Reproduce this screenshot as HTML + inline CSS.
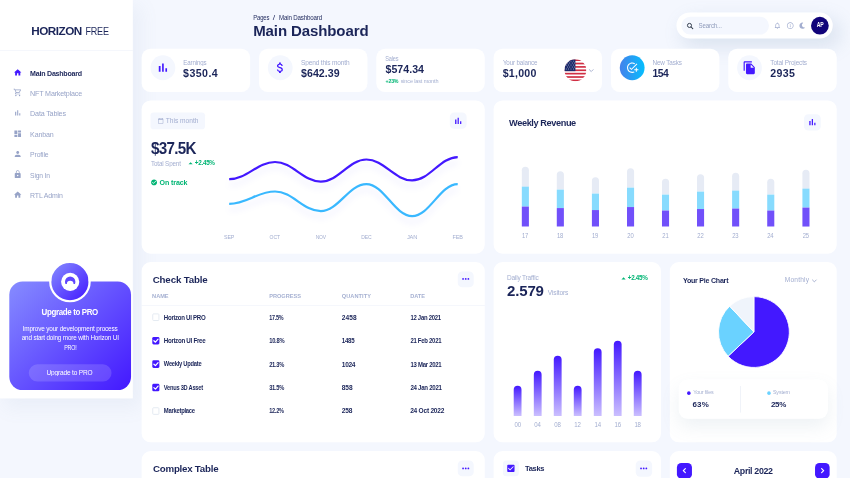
<!DOCTYPE html>
<html lang="en"><head><meta charset="utf-8"><title>Horizon UI - Main Dashboard</title>
<style>
html,body{margin:0;padding:0;background:#F4F7FE;overflow:hidden;width:850px;height:478px}
#stage{position:absolute;left:0;top:0;width:1920px;height:1080px;transform:scale(0.4427083);transform-origin:0 0;background:#F4F7FE;overflow:hidden;font-family:"Liberation Sans",Arial,sans-serif}
.t{position:absolute;white-space:pre;font-family:"Liberation Sans",Arial,sans-serif}
.a{position:absolute;box-sizing:border-box}
.card{position:absolute;background:#fff;border-radius:20px;box-sizing:border-box}
svg{position:absolute;overflow:visible}

</style></head>
<body>
<div id="stage">
<div class="a" style="left:0.00px;top:0.00px;width:299.97px;height:899.92px;background:#fff;box-shadow:14px 17px 40px 4px rgba(112,144,176,0.08);"></div>
<div class="a" style="left:0.00px;top:113.84px;width:299.97px;height:1.13px;background:#E9EDF7;"></div>
<svg style="left:29.76px;top:153.99px" width="20" height="20" viewBox="0 0 24 24" fill="#4318FF" ><path d="M10 20v-6h4v6h5v-8h3L12 3 2 12h3v8z"/></svg>
<svg style="left:29.76px;top:199.39px" width="20" height="20" viewBox="0 0 24 24" fill="#97A3C7" ><path d="M15.55 13c.75 0 1.41-.41 1.75-1.03l3.58-6.49A.996.996 0 0 0 20.01 4H5.21l-.94-2H1v2h2l3.6 7.59-1.35 2.44C4.52 15.37 5.48 17 7 17h12v-2H7l1.1-2h7.45zM6.16 6h12.15l-2.76 5H8.53L6.16 6zM7 18c-1.1 0-1.99.9-1.99 2S5.900 22 7 22s2-.9 2-2-.9-2-2-2zm10 0c-1.1 0-1.99.9-1.99 2s.89 2 1.99 2 2-.9 2-2-.9-2-2-2z"/></svg>
<svg style="left:29.76px;top:245.47px" width="20" height="20" viewBox="0 0 24 24" fill="#97A3C7" ><path d="M5 9.2h3V19H5zM10.6 5h2.8v14h-2.800zm5.6 8H19v6h-2.800z"/></svg>
<svg style="left:29.76px;top:291.55px" width="20" height="20" viewBox="0 0 24 24" fill="#97A3C7" ><path d="M3 13h8V3H3v10zm0 8h8v-6H3v6zm10 0h8V11h-8v10zm0-18v6h8V3h-8z"/></svg>
<svg style="left:29.76px;top:337.63px" width="20" height="20" viewBox="0 0 24 24" fill="#97A3C7" ><path d="M12 12c2.210 0 4-1.790 4-4s-1.790-4-4-4-4 1.790-4 4 1.790 4 4 4zm0 2c-2.670 0-8 1.340-8 4v2h16v-2c0-2.660-5.330-4-8-4z"/></svg>
<svg style="left:29.76px;top:383.71px" width="20" height="20" viewBox="0 0 24 24" fill="#97A3C7" ><path d="M18 8h-1V6c0-2.760-2.240-5-5-5S7 3.240 7 6v2H6c-1.100 0-2 .9-2 2v10c0 1.100.9 2 2 2h12c1.100 0 2-.9 2-2V10c0-1.100-.9-2-2-2zm-6 9c-1.100 0-2-.9-2-2s.9-2 2-2 2 .9 2 2-.9 2-2 2zm3.100-9H8.900V6c0-1.710 1.390-3.100 3.100-3.100 1.710 0 3.100 1.390 3.100 3.100v2z"/></svg>
<svg style="left:29.76px;top:429.79px" width="20" height="20" viewBox="0 0 24 24" fill="#97A3C7" ><path d="M10 20v-6h4v6h5v-8h3L12 3 2 12h3v8z"/></svg>
<div class="a" style="left:20.56px;top:636.08px;width:275.12px;height:244.63px;border-radius:30px;background:linear-gradient(135deg,#868CFF 0%,#4318FF 100%);"></div>
<div class="a" style="left:110.68px;top:588.88px;width:94.42px;height:94.42px;border-radius:50%;border:5.5px solid #fff;background:linear-gradient(135deg,#868CFF 0%,#4318FF 100%);"></div>
<svg style="left:137.56px;top:615.53px;" width="41.11" height="41.34" viewBox="0 0 41 41"><defs><clipPath id="lc"><rect x="0" y="0" width="41" height="25.6"/></clipPath></defs><circle cx="20.5" cy="20.5" r="20.5" fill="#fff"/><path clip-path="url(#lc)" fill-rule="evenodd" d="M8.8 20.3 a11.7 11.7 0 1 0 23.4 0 a11.7 11.7 0 1 0 -23.4 0 Z M13 25.6 a7.5 7.5 0 1 0 15 0 a7.5 7.5 0 1 0 -15 0 Z" fill="#6046FF"/></svg>
<div class="a" style="left:65.28px;top:822.66px;width:186.35px;height:38.85px;border-radius:45px;background:rgba(255,255,255,0.15);"></div>
<div class="a" style="left:1527.64px;top:28.01px;width:353.05px;height:59.41px;background:#fff;border-radius:30px;box-shadow:14px 17px 40px 4px rgba(112,144,176,0.18);"></div>
<div class="a" style="left:1538.94px;top:37.95px;width:198.10px;height:39.76px;background:#F4F7FE;border-radius:30px;"></div>
<svg style="left:1549.64px;top:49.55px" width="17" height="17" viewBox="0 0 24 24" fill="none" ><circle cx="10.5" cy="10.5" r="6.500" fill="none" stroke="#2D3748" stroke-width="3"/><path d="M15.500 15.500 L21 21" stroke="#2D3748" stroke-width="3.200" stroke-linecap="round"/></svg>
<svg style="left:1747.24px;top:48.83px" width="18" height="18" viewBox="0 0 24 24" fill="#A3AED0" ><path d="M12 22c1.100 0 2-.9 2-2h-4c0 1.100.9 2 2 2zm6-6v-5c0-3.070-1.630-5.640-4.500-6.320V4c0-.83-.67-1.500-1.500-1.500s-1.500.67-1.500 1.500v.68C7.640 5.360 6 7.920 6 11v5l-2 2v1h16v-1l-2-2zm-2 1H8v-6c0-2.480 1.510-4.500 4-4.500s4 2.020 4 4.500v6z"/></svg>
<svg style="left:1775.70px;top:48.83px" width="18" height="18" viewBox="0 0 24 24" fill="#A3AED0" ><path d="M11 7h2v2h-2zm0 4h2v6h-2zm1-9C6.480 2 2 6.480 2 12s4.480 10 10 10 10-4.480 10-10S17.520 2 12 2zm0 18c-4.410 0-8-3.590-8-8s3.590-8 8-8 8 3.590 8 8-3.590 8-8 8z"/></svg>
<svg style="left:1804.80px;top:50.83px" width="14" height="14" viewBox="0 0 512 512" fill="#A3AED0" ><path d="M283.211 512c78.962 0 151.079-35.925 198.857-94.792 7.068-8.708-.639-21.430-11.562-19.350-124.203 23.654-238.262-71.576-238.262-196.954 0-72.222 38.662-138.635 101.498-174.394 9.686-5.512 7.250-20.197-3.756-22.230A258.156 258.156 0 0 0 283.211 0c-141.309 0-256 114.511-256 256 0 141.309 114.511 256 256 256z"/></svg>
<div class="a" style="left:1832.36px;top:37.84px;width:39.98px;height:39.98px;border-radius:50%;background:#11047A;"></div>
<div class="card" style="left:320.08px;top:109.78px;width:244.86px;height:97.81px;"></div>
<div class="card" style="left:585.04px;top:109.78px;width:244.86px;height:97.81px;"></div>
<div class="card" style="left:850.22px;top:109.78px;width:244.63px;height:97.81px;"></div>
<div class="card" style="left:1114.96px;top:109.78px;width:244.86px;height:97.81px;"></div>
<div class="card" style="left:1379.69px;top:109.78px;width:245.08px;height:97.81px;"></div>
<div class="card" style="left:1645.10px;top:109.78px;width:244.86px;height:97.81px;"></div>
<div class="a" style="left:339.95px;top:124.69px;width:56.02px;height:56.02px;border-radius:50%;background:#F4F7FE;"></div>
<svg style="left:351.96px;top:136.70px" width="32" height="32" viewBox="0 0 24 24" fill="#4318FF" ><path d="M5 9.2h3V19H5zM10.6 5h2.8v14h-2.800zm5.6 8H19v6h-2.800z"/></svg>
<div class="a" style="left:604.69px;top:124.69px;width:56.02px;height:56.02px;border-radius:50%;background:#F4F7FE;"></div>
<svg style="left:616.70px;top:136.70px" width="32" height="32" viewBox="0 0 24 24" fill="#4318FF" ><path d="M11.800 10.900c-2.270-.59-3-1.200-3-2.150 0-1.090 1.010-1.850 2.700-1.850 1.780 0 2.440.85 2.500 2.100h2.210c-.07-1.720-1.120-3.300-3.210-3.810V3h-3v2.160c-1.940.42-3.500 1.680-3.500 3.610 0 2.310 1.910 3.460 4.700 4.130 2.500.6 3 1.480 3 2.410 0 .69-.49 1.790-2.700 1.790-2.060 0-2.870-.92-2.980-2.100h-2.200c.12 2.190 1.760 3.420 3.680 3.830V21h3v-2.150c1.950-.37 3.500-1.500 3.500-3.550 0-2.840-2.430-3.810-4.700-4.400z"/></svg>
<svg style="left:1275.11px;top:133.50px;" width="49.47" height="49.47" viewBox="0 0 50 50"><defs><clipPath id="fc"><circle cx="25" cy="25" r="25"/></clipPath></defs><g clip-path="url(#fc)"><rect width="50" height="50" fill="#fff"/><rect x="0" y="0.00" width="50" height="3.85" fill="#D02F44"/><rect x="0" y="7.69" width="50" height="3.85" fill="#D02F44"/><rect x="0" y="15.38" width="50" height="3.85" fill="#D02F44"/><rect x="0" y="23.08" width="50" height="3.85" fill="#D02F44"/><rect x="0" y="30.77" width="50" height="3.85" fill="#D02F44"/><rect x="0" y="38.46" width="50" height="3.85" fill="#D02F44"/><rect x="0" y="46.15" width="50" height="3.85" fill="#D02F44"/><rect x="0" y="0" width="25" height="27" fill="#1B2A6B"/><circle cx="4.0" cy="4.0" r="1" fill="#fff"/><circle cx="9.5" cy="4.0" r="1" fill="#fff"/><circle cx="15.0" cy="4.0" r="1" fill="#fff"/><circle cx="20.5" cy="4.0" r="1" fill="#fff"/><circle cx="6.7" cy="8.5" r="1" fill="#fff"/><circle cx="12.2" cy="8.5" r="1" fill="#fff"/><circle cx="17.7" cy="8.5" r="1" fill="#fff"/><circle cx="23.2" cy="8.5" r="1" fill="#fff"/><circle cx="4.0" cy="13.0" r="1" fill="#fff"/><circle cx="9.5" cy="13.0" r="1" fill="#fff"/><circle cx="15.0" cy="13.0" r="1" fill="#fff"/><circle cx="20.5" cy="13.0" r="1" fill="#fff"/><circle cx="6.7" cy="17.5" r="1" fill="#fff"/><circle cx="12.2" cy="17.5" r="1" fill="#fff"/><circle cx="17.7" cy="17.5" r="1" fill="#fff"/><circle cx="23.2" cy="17.5" r="1" fill="#fff"/><circle cx="4.0" cy="22.0" r="1" fill="#fff"/><circle cx="9.5" cy="22.0" r="1" fill="#fff"/><circle cx="15.0" cy="22.0" r="1" fill="#fff"/><circle cx="20.5" cy="22.0" r="1" fill="#fff"/></g></svg>
<svg style="left:1327.37px;top:150.75px" width="17" height="17" viewBox="0 0 24 24" fill="none" ><path d="M6 9l6 6 6-6" fill="none" stroke="#97A3C6" stroke-width="2.600" stroke-linecap="round" stroke-linejoin="round"/></svg>
<div class="a" style="left:1399.79px;top:124.69px;width:56.02px;height:56.02px;border-radius:50%;background:linear-gradient(90deg,#4481EB 0%,#04BEFE 100%);"></div>
<svg style="left:1413.80px;top:138.70px" width="28" height="28" viewBox="0 0 24 24" fill="#fff" ><path d="M22 5.180 10.590 16.600l-4.240-4.240 1.410-1.410 2.830 2.830 10-10L22 5.180zM12 20c-4.410 0-8-3.590-8-8s3.590-8 8-8c1.570 0 3.040.46 4.280 1.250l1.450-1.450A10.020 10.020 0 0 0 12 2C6.480 2 2 6.480 2 12s4.480 10 10 10c1.730 0 3.360-.44 4.780-1.220l-1.500-1.500c-1 .46-2.110.72-3.280.72zm7-5h-3v2h3v3h2v-3h3v-2h-3v-3h-2v3z"/></svg>
<div class="a" style="left:1665.20px;top:124.69px;width:56.02px;height:56.02px;border-radius:50%;background:#F4F7FE;"></div>
<svg style="left:1677.21px;top:136.70px" width="32" height="32" viewBox="0 0 24 24" fill="#4318FF" ><path d="M16 1H4c-1.100 0-2 .9-2 2v14h2V3h12V1zm-1 4 6 6v10c0 1.100-.9 2-2 2H7.990C6.890 23 6 22.100 6 21l.01-14c0-1.100.89-2 1.990-2h7zm-1 7h5.500L14 6.500V12z"/></svg>
<div class="card" style="left:320.08px;top:227.01px;width:774.78px;height:345.83px;"></div>
<div class="a" style="left:339.95px;top:253.67px;width:123.56px;height:38.40px;background:#F4F7FE;border-radius:7px;"></div>
<svg style="left:355.77px;top:265.87px" width="14" height="14" viewBox="0 0 24 24" fill="#A3AED0" ><path d="M20 3h-1V1h-2v2H7V1H5v2H4c-1.100 0-2 .9-2 2v16c0 1.100.9 2 2 2h16c1.100 0 2-.9 2-2V5c0-1.100-.9-2-2-2zm0 18H4V8h16v13z"/></svg>
<div class="a" style="left:1015.79px;top:254.34px;width:37.95px;height:37.04px;background:#F4F7FE;border-radius:10px;"></div>
<svg style="left:1023.22px;top:260.87px" width="24" height="24" viewBox="0 0 24 24" fill="#4318FF" ><path d="M5 9.2h3V19H5zM10.6 5h2.8v14h-2.800zm5.6 8H19v6h-2.800z"/></svg>
<svg style="left:420.58px;top:359.59px" width="19" height="19" viewBox="0 0 24 24" fill="#01B574" ><path d="M12 8l6 6H6z"/></svg>
<svg style="left:339.86px;top:404.46px" width="16" height="16" viewBox="0 0 24 24" fill="#01B574" ><path d="M12 2C6.480 2 2 6.480 2 12s4.480 10 10 10 10-4.480 10-10S17.520 2 12 2zm-2 15l-5-5 1.410-1.410L10 14.170l7.590-7.590L19 8l-9 9z"/></svg>
<svg style="left:0;top:0" width="1920" height="1080" viewBox="0 0 1920 1080"><defs><filter id="ds" x="-10%" y="-50%" width="120%" height="250%"><feGaussianBlur stdDeviation="7"/></filter></defs><path d="M517.7 404.8 C557.5 404.8 581.4 365.9 621.2 365.9 C661.0 365.9 684.8 410.3 724.6 410.3 C764.2 410.3 788.0 360.3 827.6 360.3 C867.3 360.3 891.2 407.6 930.9 407.6 C970.5 407.6 994.2 354.8 1033.9 354.8" fill="none" stroke="#4318FF" stroke-width="5" stroke-opacity="0.08" filter="url(#ds)" transform="translate(0,13)"/><path d="M517.7 460.3 C557.5 460.3 581.4 432.6 621.2 432.6 C661.0 432.6 684.8 477.0 724.6 477.0 C764.2 477.0 788.0 415.9 827.6 415.9 C867.3 415.9 891.2 488.1 930.9 488.1 C970.5 488.1 994.2 415.9 1033.9 415.9" fill="none" stroke="#4318FF" stroke-width="5" stroke-opacity="0.08" filter="url(#ds)" transform="translate(0,13)"/><path d="M517.7 404.8 C557.5 404.8 581.4 365.9 621.2 365.9 C661.0 365.9 684.8 410.3 724.6 410.3 C764.2 410.3 788.0 360.3 827.6 360.3 C867.3 360.3 891.2 407.6 930.9 407.6 C970.5 407.6 994.2 354.8 1033.9 354.8" fill="none" stroke="#4318FF" stroke-width="5" stroke-linecap="butt"/><path d="M517.7 460.3 C557.5 460.3 581.4 432.6 621.2 432.6 C661.0 432.6 684.8 477.0 724.6 477.0 C764.2 477.0 788.0 415.9 827.6 415.9 C867.3 415.9 891.2 488.1 930.9 488.1 C970.5 488.1 994.2 415.9 1033.9 415.9" fill="none" stroke="#39B8FF" stroke-width="5" stroke-linecap="butt"/></svg>
<div class="card" style="left:1114.96px;top:227.01px;width:775.00px;height:345.83px;"></div>
<div class="a" style="left:1815.87px;top:257.73px;width:37.95px;height:37.04px;background:#F4F7FE;border-radius:10px;"></div>
<svg style="left:1822.84px;top:264.25px" width="24" height="24" viewBox="0 0 24 24" fill="#4318FF" ><path d="M5 9.2h3V19H5zM10.6 5h2.8v14h-2.800zm5.6 8H19v6h-2.800z"/></svg>
<svg style="left:0;top:0" width="1920" height="1080" viewBox="0 0 1920 1080"><path d="M1178.7 421.6 V384.6 A8.0 8.0 0 0 1 1194.7 384.6 V421.6 Z" fill="#E6EBF5"/><rect x="1178.7" y="421.6" width="16.0" height="45.0" fill="#87DBFE"/><rect x="1178.7" y="466.6" width="16.0" height="45.0" fill="#7150FA"/><path d="M1257.7 428.3 V394.7 A8.0 8.0 0 0 1 1273.8 394.7 V428.3 Z" fill="#E6EBF5"/><rect x="1257.7" y="428.3" width="16.0" height="41.6" fill="#87DBFE"/><rect x="1257.7" y="470.0" width="16.0" height="41.6" fill="#7150FA"/><path d="M1337.0 437.3 V408.2 A8.0 8.0 0 0 1 1353.0 408.2 V437.3 Z" fill="#E6EBF5"/><rect x="1337.0" y="437.3" width="16.0" height="37.1" fill="#87DBFE"/><rect x="1337.0" y="474.5" width="16.0" height="37.1" fill="#7150FA"/><path d="M1416.3 423.8 V388.0 A8.0 8.0 0 0 1 1432.3 388.0 V423.8 Z" fill="#E6EBF5"/><rect x="1416.3" y="423.8" width="16.0" height="43.9" fill="#87DBFE"/><rect x="1416.3" y="467.7" width="16.0" height="43.9" fill="#7150FA"/><path d="M1495.3 439.6 V411.6 A8.0 8.0 0 0 1 1511.4 411.6 V439.6 Z" fill="#E6EBF5"/><rect x="1495.3" y="439.6" width="16.0" height="36.0" fill="#87DBFE"/><rect x="1495.3" y="475.6" width="16.0" height="36.0" fill="#7150FA"/><path d="M1574.4 432.8 V401.5 A8.0 8.0 0 0 1 1590.4 401.5 V432.8 Z" fill="#E6EBF5"/><rect x="1574.4" y="432.8" width="16.0" height="39.4" fill="#87DBFE"/><rect x="1574.4" y="472.2" width="16.0" height="39.4" fill="#7150FA"/><path d="M1653.7 430.6 V398.1 A8.0 8.0 0 0 1 1669.7 398.1 V430.6 Z" fill="#E6EBF5"/><rect x="1653.7" y="430.6" width="16.0" height="40.5" fill="#87DBFE"/><rect x="1653.7" y="471.1" width="16.0" height="40.5" fill="#7150FA"/><path d="M1733.0 439.6 V411.6 A8.0 8.0 0 0 1 1749.0 411.6 V439.6 Z" fill="#E6EBF5"/><rect x="1733.0" y="439.6" width="16.0" height="36.0" fill="#87DBFE"/><rect x="1733.0" y="475.6" width="16.0" height="36.0" fill="#7150FA"/><path d="M1812.5 426.1 V391.3 A8.0 8.0 0 0 1 1828.5 391.3 V426.1 Z" fill="#E6EBF5"/><rect x="1812.5" y="426.1" width="16.0" height="42.8" fill="#87DBFE"/><rect x="1812.5" y="468.9" width="16.0" height="42.8" fill="#7150FA"/></svg>
<div class="card" style="left:320.08px;top:592.26px;width:774.78px;height:407.04px;"></div>
<div class="a" style="left:1033.64px;top:612.59px;width:36.14px;height:36.14px;background:#F4F7FE;border-radius:10px;"></div>
<svg style="left:1039.71px;top:617.76px" width="24" height="24" viewBox="0 0 24 24" fill="#4318FF" ><circle cx="6" cy="12" r="2"/><circle cx="12" cy="12" r="2"/><circle cx="18" cy="12" r="2"/></svg>
<div class="a" style="left:320.08px;top:689.84px;width:774.78px;height:1.13px;background:#E9EDF7;"></div>
<div class="a" style="left:343.57px;top:708.25px;width:16.72px;height:16.72px;border:2px solid #E2E8F0;border-radius:3px;background:#fff;"></div>
<div class="a" style="left:343.57px;top:761.22px;width:16.72px;height:16.72px;background:#4318FF;border-radius:3px;"></div>
<svg style="left:343.57px;top:761.22px;" width="16.72" height="16.72" viewBox="0 0 16 16"><path d="M3.5 8.3 L6.800 11.500 L12.500 4.800" fill="none" stroke="#fff" stroke-width="2.600" stroke-linecap="round" stroke-linejoin="round"/></svg>
<div class="a" style="left:343.57px;top:814.19px;width:16.72px;height:16.72px;background:#4318FF;border-radius:3px;"></div>
<svg style="left:343.57px;top:814.19px;" width="16.72" height="16.72" viewBox="0 0 16 16"><path d="M3.5 8.3 L6.800 11.500 L12.500 4.800" fill="none" stroke="#fff" stroke-width="2.600" stroke-linecap="round" stroke-linejoin="round"/></svg>
<div class="a" style="left:343.57px;top:867.16px;width:16.72px;height:16.72px;background:#4318FF;border-radius:3px;"></div>
<svg style="left:343.57px;top:867.16px;" width="16.72" height="16.72" viewBox="0 0 16 16"><path d="M3.5 8.3 L6.800 11.500 L12.500 4.800" fill="none" stroke="#fff" stroke-width="2.600" stroke-linecap="round" stroke-linejoin="round"/></svg>
<div class="a" style="left:343.57px;top:920.13px;width:16.72px;height:16.72px;border:2px solid #E2E8F0;border-radius:3px;background:#fff;"></div>
<div class="card" style="left:1114.96px;top:592.26px;width:378.35px;height:407.04px;"></div>
<svg style="left:1399.10px;top:619.58px" width="19" height="19" viewBox="0 0 24 24" fill="#01B574" ><path d="M12 8l6 6H6z"/></svg>
<svg style="left:0;top:0" width="1920" height="1080" viewBox="0 0 1920 1080"><defs><linearGradient id="dg" x1="0" y1="0" x2="0" y2="1"><stop offset="0" stop-color="#4318FF"/><stop offset="1" stop-color="#4318FF" stop-opacity="0.28"/></linearGradient></defs><path d="M1160.4 939.4 V880.3 A8.8 8.8 0 0 1 1178.0 880.3 V939.4 Z" fill="url(#dg)"/><path d="M1205.8 939.4 V846.3 A8.8 8.8 0 0 1 1223.4 846.3 V939.4 Z" fill="url(#dg)"/><path d="M1250.9 939.4 V812.3 A8.8 8.8 0 0 1 1268.6 812.3 V939.4 Z" fill="url(#dg)"/><path d="M1296.1 939.4 V880.3 A8.8 8.8 0 0 1 1313.7 880.3 V939.4 Z" fill="url(#dg)"/><path d="M1341.3 939.4 V795.3 A8.8 8.8 0 0 1 1358.9 795.3 V939.4 Z" fill="url(#dg)"/><path d="M1386.5 939.4 V778.3 A8.8 8.8 0 0 1 1404.1 778.3 V939.4 Z" fill="url(#dg)"/><path d="M1431.6 939.4 V846.3 A8.8 8.8 0 0 1 1449.3 846.3 V939.4 Z" fill="url(#dg)"/></svg>
<div class="card" style="left:1512.73px;top:592.26px;width:377.68px;height:407.04px;"></div>
<svg style="left:1831.31px;top:625.78px" width="17" height="17" viewBox="0 0 24 24" fill="none" ><path d="M6 9l6 6 6-6" fill="none" stroke="#97A3C6" stroke-width="2.600" stroke-linecap="round" stroke-linejoin="round"/></svg>
<svg style="left:0;top:0" width="1920" height="1080" viewBox="0 0 1920 1080"><path d="M1702.9 749.9 L1702.9 670.0 A80.0 80.0 0 1 1 1644.6 804.7 Z" fill="#4318FF" stroke="#fff" stroke-width="2" stroke-linejoin="round"/><path d="M1702.9 749.9 L1644.6 804.7 A80.0 80.0 0 0 1 1648.2 691.6 Z" fill="#6AD2FF" stroke="#fff" stroke-width="2" stroke-linejoin="round"/><path d="M1702.9 749.9 L1648.2 691.6 A80.0 80.0 0 0 1 1702.9 670.0 Z" fill="#EFF4FB" stroke="#fff" stroke-width="2" stroke-linejoin="round"/></svg>
<div class="a" style="left:1533.29px;top:857.45px;width:337.02px;height:88.55px;background:#fff;border-radius:20px;box-shadow:0px 18px 40px rgba(112,144,176,0.12);"></div>
<div class="a" style="left:1552.49px;top:883.88px;width:7.91px;height:7.91px;border-radius:50%;background:#4318FF;"></div>
<div class="a" style="left:1671.76px;top:871.91px;width:1.36px;height:59.86px;background:#DDE3F1;"></div>
<div class="a" style="left:1732.74px;top:883.88px;width:7.91px;height:7.91px;border-radius:50%;background:#6AD2FF;"></div>
<div class="card" style="left:320.08px;top:1019.18px;width:774.78px;height:110.23px;"></div>
<div class="a" style="left:1033.64px;top:1039.51px;width:36.14px;height:36.14px;background:#F4F7FE;border-radius:10px;"></div>
<svg style="left:1039.71px;top:1045.58px" width="24" height="24" viewBox="0 0 24 24" fill="#4318FF" ><circle cx="6" cy="12" r="2"/><circle cx="12" cy="12" r="2"/><circle cx="18" cy="12" r="2"/></svg>
<div class="card" style="left:1114.96px;top:1019.18px;width:378.35px;height:110.23px;"></div>
<div class="a" style="left:1136.41px;top:1039.51px;width:35.24px;height:36.14px;background:#F4F7FE;border-radius:8px;"></div>
<svg style="left:1143.03px;top:1047.03px" width="22" height="22" viewBox="0 0 24 24" fill="#4318FF" ><path d="M19 3H5c-1.110 0-2 .9-2 2v14c0 1.100.89 2 2 2h14c1.110 0 2-.9 2-2V5c0-1.100-.89-2-2-2zm-9 14l-5-5 1.410-1.410L10 14.170l7.590-7.590L19 8l-9 9z"/></svg>
<div class="a" style="left:1435.93px;top:1039.51px;width:37.04px;height:37.04px;background:#F4F7FE;border-radius:10px;"></div>
<svg style="left:1442.46px;top:1046.03px" width="24" height="24" viewBox="0 0 24 24" fill="#4318FF" ><circle cx="6" cy="12" r="2"/><circle cx="12" cy="12" r="2"/><circle cx="18" cy="12" r="2"/></svg>
<div class="card" style="left:1512.73px;top:1019.18px;width:377.68px;height:110.23px;"></div>
<div class="a" style="left:1529.45px;top:1045.61px;width:33.43px;height:35.01px;background:#4318FF;border-radius:10px;"></div>
<div class="a" style="left:1840.72px;top:1045.61px;width:33.66px;height:35.01px;background:#4318FF;border-radius:10px;"></div>
<svg style="left:1535.71px;top:1053.23px" width="20" height="20" viewBox="0 0 24 24" fill="none" ><path d="M14.500 6.500 L9 12 l5.500 5.500" fill="none" stroke="#fff" stroke-width="3.200" stroke-linecap="round" stroke-linejoin="round"/></svg>
<svg style="left:1848.11px;top:1053.23px" width="20" height="20" viewBox="0 0 24 24" fill="none" ><path d="M9.500 6.500 L15 12 l-5.500 5.500" fill="none" stroke="#fff" stroke-width="3.200" stroke-linecap="round" stroke-linejoin="round"/></svg>
<span class="t" style="left:70.70px;top:56.85px;font-size:26.5px;line-height:26.5px;font-weight:700;color:#1B2559;letter-spacing:-1.192px;">HORIZON</span>
<span class="t" style="left:192.90px;top:56.85px;font-size:26.5px;line-height:26.5px;font-weight:400;color:#1B2559;letter-spacing:-0.663px;transform:scaleX(0.7727);transform-origin:0 0;">FREE</span>
<span class="t" style="left:67.99px;top:158.45px;font-size:16px;line-height:16px;font-weight:700;color:#1B2559;letter-spacing:-0.539px;">Main Dashboard</span>
<span class="t" style="left:67.99px;top:202.90px;font-size:17.12px;line-height:17.12px;font-weight:400;color:#97A3C7;letter-spacing:-0.428px;transform:scaleX(0.9421);transform-origin:0 0;">NFT Marketplace</span>
<span class="t" style="left:67.99px;top:248.98px;font-size:17.12px;line-height:17.12px;font-weight:400;color:#97A3C7;letter-spacing:-0.428px;transform:scaleX(0.9455);transform-origin:0 0;">Data Tables</span>
<span class="t" style="left:67.99px;top:295.06px;font-size:17.12px;line-height:17.12px;font-weight:400;color:#97A3C7;letter-spacing:-0.428px;transform:scaleX(0.9375);transform-origin:0 0;">Kanban</span>
<span class="t" style="left:67.99px;top:341.14px;font-size:17.12px;line-height:17.12px;font-weight:400;color:#97A3C7;letter-spacing:-0.428px;transform:scaleX(0.9098);transform-origin:0 0;">Profile</span>
<span class="t" style="left:67.99px;top:387.22px;font-size:17.12px;line-height:17.12px;font-weight:400;color:#97A3C7;letter-spacing:-0.428px;transform:scaleX(0.8864);transform-origin:0 0;">Sign In</span>
<span class="t" style="left:67.99px;top:433.30px;font-size:17.12px;line-height:17.12px;font-weight:400;color:#97A3C7;letter-spacing:-0.428px;transform:scaleX(0.9203);transform-origin:0 0;">RTL Admin</span>
<span class="t" style="left:94.42px;top:695.64px;font-size:18.5px;line-height:18.5px;font-weight:700;color:#fff;letter-spacing:-0.833px;transform:scaleX(0.9682);transform-origin:0 0;">Upgrade to PRO</span>
<span class="t" style="left:50.82px;top:735.02px;font-size:14.98px;line-height:14.98px;font-weight:400;color:#fff;letter-spacing:-0.375px;transform:scaleX(0.9678);transform-origin:0 0;">Improve your development process</span>
<span class="t" style="left:48.56px;top:755.12px;font-size:14.98px;line-height:14.98px;font-weight:400;color:#fff;letter-spacing:-0.375px;transform:scaleX(0.9553);transform-origin:0 0;">and start doing more with Horizon UI</span>
<span class="t" style="left:144.56px;top:776.82px;font-size:14.98px;line-height:14.98px;font-weight:400;color:#fff;letter-spacing:-0.375px;transform:scaleX(0.8020);transform-origin:0 0;">PRO!</span>
<span class="t" style="left:105.49px;top:832.60px;font-size:14.98px;line-height:14.98px;font-weight:400;color:#fff;letter-spacing:-0.375px;transform:scaleX(0.9863);transform-origin:0 0;">Upgrade to PRO</span>
<span class="t" style="left:571.93px;top:32.04px;font-size:14.98px;line-height:14.98px;font-weight:400;color:#1B2559;letter-spacing:-0.375px;transform:scaleX(0.8935);transform-origin:0 0;">Pages</span>
<span class="t" style="left:615.76px;top:32.04px;font-size:14.98px;line-height:14.98px;font-weight:400;color:#1B2559;transform:scaleX(1.2995);transform-origin:0 0;">/</span>
<span class="t" style="left:629.76px;top:32.04px;font-size:14.98px;line-height:14.98px;font-weight:400;color:#1B2559;letter-spacing:-0.375px;transform:scaleX(0.9317);transform-origin:0 0;">Main Dashboard</span>
<span class="t" style="left:571.93px;top:53.21px;font-size:34px;line-height:34px;font-weight:700;color:#1B2559;letter-spacing:-0.294px;">Main Dashboard</span>
<span class="t" style="left:1578.24px;top:49.69px;font-size:14.98px;line-height:14.98px;font-weight:400;color:#8F9BBA;letter-spacing:-0.375px;transform:scaleX(0.9248);transform-origin:0 0;">Search...</span>
<span class="t" style="left:1844.56px;top:50.28px;font-size:14.84px;line-height:14.84px;font-weight:700;color:#fff;letter-spacing:-0.668px;transform:scaleX(0.7816);transform-origin:0 0;">AP</span>
<span class="t" style="left:413.59px;top:133.04px;font-size:14.98px;line-height:14.98px;font-weight:400;color:#A3AED0;letter-spacing:-0.375px;transform:scaleX(0.9320);transform-origin:0 0;">Earnings</span>
<span class="t" style="left:413.59px;top:153.16px;font-size:24px;line-height:24px;font-weight:700;color:#1B2559;letter-spacing:0.950px;">$350.4</span>
<span class="t" style="left:679.91px;top:133.04px;font-size:14.98px;line-height:14.98px;font-weight:400;color:#A3AED0;letter-spacing:-0.375px;transform:scaleX(0.9900);transform-origin:0 0;">Spend this month</span>
<span class="t" style="left:679.91px;top:153.16px;font-size:24px;line-height:24px;font-weight:700;color:#1B2559;letter-spacing:0.108px;">$642.39</span>
<span class="t" style="left:870.32px;top:123.75px;font-size:14.98px;line-height:14.98px;font-weight:400;color:#A3AED0;letter-spacing:-0.375px;transform:scaleX(0.8481);transform-origin:0 0;">Sales</span>
<span class="t" style="left:870.78px;top:143.67px;font-size:24px;line-height:24px;font-weight:700;color:#1B2559;letter-spacing:0.033px;">$574.34</span>
<span class="t" style="left:870.55px;top:176.94px;font-size:12.72px;line-height:12.72px;font-weight:700;color:#01B574;letter-spacing:-0.572px;transform:scaleX(0.9347);transform-origin:0 0;">+23%</span>
<span class="t" style="left:904.66px;top:176.84px;font-size:12.84px;line-height:12.84px;font-weight:400;color:#A3AED0;letter-spacing:-0.321px;transform:scaleX(0.9715);transform-origin:0 0;">since last month</span>
<span class="t" style="left:1135.51px;top:133.04px;font-size:14.98px;line-height:14.98px;font-weight:400;color:#A3AED0;letter-spacing:-0.375px;transform:scaleX(0.9448);transform-origin:0 0;">Your balance</span>
<span class="t" style="left:1135.51px;top:153.16px;font-size:24px;line-height:24px;font-weight:700;color:#1B2559;letter-spacing:0.498px;">$1,000</span>
<span class="t" style="left:1473.88px;top:133.04px;font-size:14.98px;line-height:14.98px;font-weight:400;color:#A3AED0;letter-spacing:-0.375px;transform:scaleX(0.9576);transform-origin:0 0;">New Tasks</span>
<span class="t" style="left:1473.88px;top:153.16px;font-size:24px;line-height:24px;font-weight:700;color:#1B2559;letter-spacing:-1.080px;transform:scaleX(0.9718);transform-origin:0 0;">154</span>
<span class="t" style="left:1739.97px;top:133.04px;font-size:14.98px;line-height:14.98px;font-weight:400;color:#A3AED0;letter-spacing:-0.375px;transform:scaleX(0.9754);transform-origin:0 0;">Total Projects</span>
<span class="t" style="left:1739.97px;top:153.16px;font-size:24px;line-height:24px;font-weight:700;color:#1B2559;letter-spacing:0.650px;">2935</span>
<span class="t" style="left:374.51px;top:263.83px;font-size:14.98px;line-height:14.98px;font-weight:400;color:#A3AED0;letter-spacing:-0.020px;">This month</span>
<span class="t" style="left:341.08px;top:318.26px;font-size:35.5px;line-height:35.5px;font-weight:700;color:#1B2559;letter-spacing:-1.597px;transform:scaleX(0.9651);transform-origin:0 0;">$37.5K</span>
<span class="t" style="left:341.08px;top:360.73px;font-size:14.98px;line-height:14.98px;font-weight:400;color:#A3AED0;letter-spacing:-0.375px;transform:scaleX(0.9523);transform-origin:0 0;">Total Spent</span>
<span class="t" style="left:440.47px;top:361.32px;font-size:14.84px;line-height:14.84px;font-weight:700;color:#01B574;letter-spacing:-0.668px;transform:scaleX(0.9630);transform-origin:0 0;">+2.45%</span>
<span class="t" style="left:360.28px;top:403.98px;font-size:16px;line-height:16px;font-weight:700;color:#01B574;letter-spacing:-0.239px;">On track</span>
<span class="t" style="left:505.98px;top:529.45px;font-size:12.84px;line-height:12.84px;font-weight:400;color:#A3AED0;letter-spacing:-0.321px;transform:scaleX(0.9385);transform-origin:0 0;">SEP</span>
<span class="t" style="left:609.43px;top:529.45px;font-size:12.84px;line-height:12.84px;font-weight:400;color:#A3AED0;letter-spacing:-0.321px;transform:scaleX(0.8881);transform-origin:0 0;">OCT</span>
<span class="t" style="left:712.88px;top:529.45px;font-size:12.84px;line-height:12.84px;font-weight:400;color:#A3AED0;letter-spacing:-0.321px;transform:scaleX(0.8646);transform-origin:0 0;">NOV</span>
<span class="t" style="left:815.89px;top:529.45px;font-size:12.84px;line-height:12.84px;font-weight:400;color:#A3AED0;letter-spacing:-0.321px;transform:scaleX(0.8881);transform-origin:0 0;">DEC</span>
<span class="t" style="left:919.12px;top:529.45px;font-size:12.84px;line-height:12.84px;font-weight:400;color:#A3AED0;letter-spacing:-0.321px;">JAN</span>
<span class="t" style="left:1022.12px;top:529.45px;font-size:12.84px;line-height:12.84px;font-weight:400;color:#A3AED0;letter-spacing:-0.321px;transform:scaleX(0.9663);transform-origin:0 0;">FEB</span>
<span class="t" style="left:1149.97px;top:265.99px;font-size:22px;line-height:22px;font-weight:700;color:#1B2559;letter-spacing:-0.990px;transform:scaleX(0.9450);transform-origin:0 0;">Weekly Revenue</span>
<span class="t" style="left:1179.11px;top:524.06px;font-size:14.98px;line-height:14.98px;font-weight:400;color:#A3AED0;letter-spacing:-0.375px;transform:scaleX(0.8879);transform-origin:0 0;">17</span>
<span class="t" style="left:1258.16px;top:524.06px;font-size:14.98px;line-height:14.98px;font-weight:400;color:#A3AED0;letter-spacing:-0.375px;transform:scaleX(0.8879);transform-origin:0 0;">18</span>
<span class="t" style="left:1337.45px;top:524.06px;font-size:14.98px;line-height:14.98px;font-weight:400;color:#A3AED0;letter-spacing:-0.375px;transform:scaleX(0.8879);transform-origin:0 0;">19</span>
<span class="t" style="left:1416.73px;top:524.06px;font-size:14.98px;line-height:14.98px;font-weight:400;color:#A3AED0;letter-spacing:-0.375px;transform:scaleX(0.8879);transform-origin:0 0;">20</span>
<span class="t" style="left:1495.79px;top:524.06px;font-size:14.98px;line-height:14.98px;font-weight:400;color:#A3AED0;letter-spacing:-0.375px;transform:scaleX(0.8879);transform-origin:0 0;">21</span>
<span class="t" style="left:1574.85px;top:524.06px;font-size:14.98px;line-height:14.98px;font-weight:400;color:#A3AED0;letter-spacing:-0.375px;transform:scaleX(0.8879);transform-origin:0 0;">22</span>
<span class="t" style="left:1654.14px;top:524.06px;font-size:14.98px;line-height:14.98px;font-weight:400;color:#A3AED0;letter-spacing:-0.375px;transform:scaleX(0.8879);transform-origin:0 0;">23</span>
<span class="t" style="left:1733.42px;top:524.06px;font-size:14.98px;line-height:14.98px;font-weight:400;color:#A3AED0;letter-spacing:-0.375px;transform:scaleX(0.8879);transform-origin:0 0;">24</span>
<span class="t" style="left:1812.93px;top:524.06px;font-size:14.98px;line-height:14.98px;font-weight:400;color:#A3AED0;letter-spacing:-0.375px;transform:scaleX(0.8879);transform-origin:0 0;">25</span>
<span class="t" style="left:344.92px;top:620.62px;font-size:22px;line-height:22px;font-weight:700;color:#1B2559;letter-spacing:-0.352px;">Check Table</span>
<span class="t" style="left:343.57px;top:663.27px;font-size:12.72px;line-height:12.72px;font-weight:700;color:#A6B1D2;letter-spacing:-0.061px;">NAME</span>
<span class="t" style="left:608.08px;top:663.27px;font-size:12.72px;line-height:12.72px;font-weight:700;color:#A6B1D2;letter-spacing:-0.038px;">PROGRESS</span>
<span class="t" style="left:772.07px;top:663.27px;font-size:12.72px;line-height:12.72px;font-weight:700;color:#A6B1D2;letter-spacing:0.135px;">QUANTITY</span>
<span class="t" style="left:926.57px;top:663.27px;font-size:12.72px;line-height:12.72px;font-weight:700;color:#A6B1D2;letter-spacing:-0.086px;">DATE</span>
<span class="t" style="left:369.77px;top:709.50px;font-size:14.84px;line-height:14.84px;font-weight:700;color:#1B2559;letter-spacing:-0.668px;transform:scaleX(0.9305);transform-origin:0 0;">Horizon UI PRO</span>
<span class="t" style="left:608.08px;top:710.19px;font-size:14.84px;line-height:14.84px;font-weight:700;color:#1B2559;letter-spacing:-0.668px;transform:scaleX(0.8261);transform-origin:0 0;">17.5%</span>
<span class="t" style="left:772.07px;top:710.19px;font-size:14.84px;line-height:14.84px;font-weight:700;color:#1B2559;letter-spacing:0.144px;">2458</span>
<span class="t" style="left:926.57px;top:710.19px;font-size:14.84px;line-height:14.84px;font-weight:700;color:#1B2559;letter-spacing:-0.668px;transform:scaleX(0.9053);transform-origin:0 0;">12 Jan 2021</span>
<span class="t" style="left:369.77px;top:762.47px;font-size:14.84px;line-height:14.84px;font-weight:700;color:#1B2559;letter-spacing:-0.668px;transform:scaleX(0.9443);transform-origin:0 0;">Horizon UI Free</span>
<span class="t" style="left:608.08px;top:763.16px;font-size:14.84px;line-height:14.84px;font-weight:700;color:#1B2559;letter-spacing:-0.668px;transform:scaleX(0.8834);transform-origin:0 0;">10.8%</span>
<span class="t" style="left:772.07px;top:763.16px;font-size:14.84px;line-height:14.84px;font-weight:700;color:#1B2559;letter-spacing:-0.668px;transform:scaleX(0.9328);transform-origin:0 0;">1485</span>
<span class="t" style="left:926.57px;top:763.16px;font-size:14.84px;line-height:14.84px;font-weight:700;color:#1B2559;letter-spacing:-0.668px;transform:scaleX(0.9074);transform-origin:0 0;">21 Feb 2021</span>
<span class="t" style="left:369.77px;top:815.44px;font-size:14.84px;line-height:14.84px;font-weight:700;color:#1B2559;letter-spacing:-0.668px;transform:scaleX(0.8784);transform-origin:0 0;">Weekly Update</span>
<span class="t" style="left:608.08px;top:816.13px;font-size:14.84px;line-height:14.84px;font-weight:700;color:#1B2559;letter-spacing:-0.668px;transform:scaleX(0.8720);transform-origin:0 0;">21.3%</span>
<span class="t" style="left:772.07px;top:816.13px;font-size:14.84px;line-height:14.84px;font-weight:700;color:#1B2559;letter-spacing:-0.668px;">1024</span>
<span class="t" style="left:926.57px;top:816.13px;font-size:14.84px;line-height:14.84px;font-weight:700;color:#1B2559;letter-spacing:-0.668px;transform:scaleX(0.9133);transform-origin:0 0;">13 Mar 2021</span>
<span class="t" style="left:369.77px;top:868.40px;font-size:14.84px;line-height:14.84px;font-weight:700;color:#1B2559;letter-spacing:-0.668px;transform:scaleX(0.8700);transform-origin:0 0;">Venus 3D Asset</span>
<span class="t" style="left:608.08px;top:869.10px;font-size:14.84px;line-height:14.84px;font-weight:700;color:#1B2559;letter-spacing:-0.668px;transform:scaleX(0.8720);transform-origin:0 0;">31.5%</span>
<span class="t" style="left:772.07px;top:869.10px;font-size:14.84px;line-height:14.84px;font-weight:700;color:#1B2559;letter-spacing:-0.177px;">858</span>
<span class="t" style="left:926.57px;top:869.10px;font-size:14.84px;line-height:14.84px;font-weight:700;color:#1B2559;letter-spacing:-0.668px;transform:scaleX(0.9318);transform-origin:0 0;">24 Jan 2021</span>
<span class="t" style="left:369.77px;top:921.37px;font-size:14.84px;line-height:14.84px;font-weight:700;color:#1B2559;letter-spacing:-0.668px;transform:scaleX(0.8945);transform-origin:0 0;">Marketplace</span>
<span class="t" style="left:608.08px;top:922.07px;font-size:14.84px;line-height:14.84px;font-weight:700;color:#1B2559;letter-spacing:-0.668px;transform:scaleX(0.8490);transform-origin:0 0;">12.2%</span>
<span class="t" style="left:772.07px;top:922.07px;font-size:14.84px;line-height:14.84px;font-weight:700;color:#1B2559;letter-spacing:-0.516px;">258</span>
<span class="t" style="left:926.57px;top:922.07px;font-size:14.84px;line-height:14.84px;font-weight:700;color:#1B2559;letter-spacing:-0.543px;">24 Oct 2022</span>
<span class="t" style="left:1145.00px;top:619.14px;font-size:14.98px;line-height:14.98px;font-weight:400;color:#A3AED0;letter-spacing:-0.375px;transform:scaleX(0.9782);transform-origin:0 0;">Daily Traffic</span>
<span class="t" style="left:1145.00px;top:638.70px;font-size:34px;line-height:34px;font-weight:700;color:#1B2559;letter-spacing:-0.323px;">2.579</span>
<span class="t" style="left:1237.38px;top:654.35px;font-size:14.98px;line-height:14.98px;font-weight:400;color:#A3AED0;letter-spacing:-0.326px;">Visitors</span>
<span class="t" style="left:1417.86px;top:620.63px;font-size:14.84px;line-height:14.84px;font-weight:700;color:#01B574;letter-spacing:-0.668px;transform:scaleX(0.9583);transform-origin:0 0;">+2.45%</span>
<span class="t" style="left:1161.71px;top:951.65px;font-size:14.98px;line-height:14.98px;font-weight:400;color:#A3AED0;letter-spacing:-0.375px;transform:scaleX(0.9156);transform-origin:0 0;">00</span>
<span class="t" style="left:1207.12px;top:951.65px;font-size:14.98px;line-height:14.98px;font-weight:400;color:#A3AED0;letter-spacing:-0.375px;transform:scaleX(0.9156);transform-origin:0 0;">04</span>
<span class="t" style="left:1252.29px;top:951.65px;font-size:14.98px;line-height:14.98px;font-weight:400;color:#A3AED0;letter-spacing:-0.375px;transform:scaleX(0.9156);transform-origin:0 0;">08</span>
<span class="t" style="left:1297.47px;top:951.65px;font-size:14.98px;line-height:14.98px;font-weight:400;color:#A3AED0;letter-spacing:-0.375px;transform:scaleX(0.9156);transform-origin:0 0;">12</span>
<span class="t" style="left:1342.64px;top:951.65px;font-size:14.98px;line-height:14.98px;font-weight:400;color:#A3AED0;letter-spacing:-0.375px;transform:scaleX(0.9156);transform-origin:0 0;">14</span>
<span class="t" style="left:1387.82px;top:951.65px;font-size:14.98px;line-height:14.98px;font-weight:400;color:#A3AED0;letter-spacing:-0.375px;transform:scaleX(0.9156);transform-origin:0 0;">16</span>
<span class="t" style="left:1433.00px;top:951.65px;font-size:14.98px;line-height:14.98px;font-weight:400;color:#A3AED0;letter-spacing:-0.375px;transform:scaleX(0.9156);transform-origin:0 0;">18</span>
<span class="t" style="left:1542.78px;top:626.70px;font-size:16px;line-height:16px;font-weight:700;color:#1B2559;letter-spacing:-0.552px;">Your Pie Chart</span>
<span class="t" style="left:1772.50px;top:625.46px;font-size:14.98px;line-height:14.98px;font-weight:400;color:#A3AED0;letter-spacing:0.411px;">Monthly</span>
<span class="t" style="left:1565.82px;top:880.42px;font-size:12.84px;line-height:12.84px;font-weight:400;color:#A3AED0;letter-spacing:-0.321px;transform:scaleX(0.9372);transform-origin:0 0;">Your files</span>
<span class="t" style="left:1564.24px;top:904.22px;font-size:18px;line-height:18px;font-weight:700;color:#1B2559;letter-spacing:0.394px;">63%</span>
<span class="t" style="left:1746.07px;top:880.42px;font-size:12.84px;line-height:12.84px;font-weight:400;color:#A3AED0;letter-spacing:-0.321px;transform:scaleX(0.9326);transform-origin:0 0;">System</span>
<span class="t" style="left:1741.33px;top:904.22px;font-size:18px;line-height:18px;font-weight:700;color:#1B2559;letter-spacing:-0.623px;">25%</span>
<span class="t" style="left:345.60px;top:1049.12px;font-size:22px;line-height:22px;font-weight:700;color:#1B2559;letter-spacing:-0.557px;">Complex Table</span>
<span class="t" style="left:1185.88px;top:1049.28px;font-size:18px;line-height:18px;font-weight:700;color:#1B2559;letter-spacing:-0.810px;transform:scaleX(0.9431);transform-origin:0 0;">Tasks</span>
<span class="t" style="left:1657.52px;top:1053.07px;font-size:20px;line-height:20px;font-weight:700;color:#1B2559;letter-spacing:-0.785px;">April 2022</span>
</div>
</body></html>
